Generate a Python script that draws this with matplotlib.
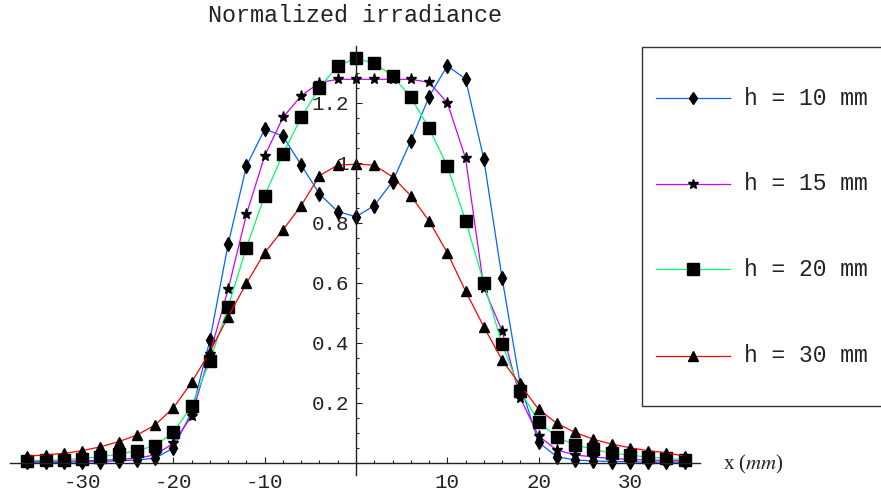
import matplotlib
matplotlib.use("Agg")
import matplotlib.pyplot as plt
from matplotlib.lines import Line2D
from matplotlib.patches import Rectangle
from matplotlib.ticker import MultipleLocator, FixedLocator, FixedFormatter

plt.rcParams['axes.unicode_minus'] = False
plt.rcParams['mathtext.fontset'] = 'stix'

# ---- data ----
x_mm = list(range(-36, 37, 2))

h10 = [0.003, 0.003, 0.003, 0.004, 0.005, 0.007, 0.010, 0.016, 0.050, 0.170, 0.410, 0.730,
       0.990, 1.113, 1.090, 0.993, 0.897, 0.838, 0.821,
       0.858, 0.938, 1.073, 1.221, 1.324, 1.280, 1.013, 0.616, 0.260, 0.069, 0.021,
       0.010, 0.007, 0.005, 0.004, 0.003, 0.003, 0.003]
h15 = [0.005, 0.005, 0.006, 0.007, 0.009, 0.012, 0.016, 0.027, 0.066, 0.157, 0.365, 0.579,
       0.829, 1.024, 1.152, 1.224, 1.268, 1.279, 1.279,
       1.279, 1.279, 1.279, 1.269, 1.201, 1.016, 0.585, 0.440, 0.216, 0.090, 0.043,
       0.027, 0.020, 0.015, 0.012, 0.010, 0.008, 0.007]
h20 = [0.008, 0.009, 0.011, 0.015, 0.021, 0.029, 0.041, 0.058, 0.102, 0.191, 0.340, 0.521,
       0.718, 0.891, 1.030, 1.152, 1.251, 1.324, 1.349,
       1.332, 1.291, 1.219, 1.116, 0.990, 0.808, 0.601, 0.396, 0.240, 0.138, 0.086,
       0.060, 0.046, 0.032, 0.027, 0.019, 0.016, 0.010]
h30 = [0.023, 0.027, 0.032, 0.041, 0.054, 0.071, 0.093, 0.127, 0.184, 0.269, 0.371, 0.488,
       0.599, 0.701, 0.777, 0.858, 0.958, 0.993, 0.996,
       0.993, 0.954, 0.891, 0.807, 0.701, 0.573, 0.454, 0.343, 0.260, 0.179, 0.132,
       0.102, 0.079, 0.063, 0.051, 0.041, 0.034, 0.023]

series = [h10, h15, h20, h30]
labels = ["h = 10 mm", "h = 15 mm", "h = 20 mm", "h = 30 mm"]
colors = ["#0066ff", "#cc00ff", "#00ff66", "#ff0000"]
markers = ["d", "*", "s", "^"]
msizes = [7, 8, 8.5, 6.5]

xticks_major = [-30, -20, -10, 10, 20, 30]
xtick_labels = ["-30", "-20", "-10", "10", "20", "30"]
yticks_major = [0.2, 0.4, 0.6, 0.8, 1.0, 1.2]
ytick_labels = ["0.2", "0.4", "0.6", "0.8", "1", "1.2"]

W, H = 881, 491
fig = plt.figure(figsize=(W / 100, H / 100), dpi=100)

# axes placement (pixels -> figure fraction)
xl, xr = -37.9, 37.7
yb, yt = -0.04, 1.39
px_per_x = 9.13
px_per_y = 300.0
x0_px = 356.0
y0_px = 463.0
left_px = x0_px + xl * px_per_x
right_px = x0_px + xr * px_per_x
top_px = y0_px - yt * px_per_y
bot_px = y0_px - yb * px_per_y
ax = fig.add_axes([left_px / W, 1 - bot_px / H, (right_px - left_px) / W, (bot_px - top_px) / H])
ax.set_xlim(xl, xr)
ax.set_ylim(yb, yt)

for ys, c, m, ms in zip(series, colors, markers, msizes):
    ax.plot(x_mm, ys, color=c, lw=0.9, marker=m, ms=ms, mfc='black', mec='black',
            clip_on=False)

ax.spines['top'].set_visible(False)
ax.spines['right'].set_visible(False)
ax.spines['left'].set_position(('data', 0))
ax.spines['bottom'].set_position(('data', 0))
for s in ('left', 'bottom'):
    ax.spines[s].set_linewidth(1.0)
    ax.spines[s].set_color('#222222')

ax.xaxis.set_major_locator(FixedLocator(xticks_major))
ax.xaxis.set_major_formatter(FixedFormatter(xtick_labels))
ax.xaxis.set_minor_locator(MultipleLocator(2))
ax.yaxis.set_major_locator(FixedLocator(yticks_major))
ax.yaxis.set_major_formatter(FixedFormatter(ytick_labels))
ax.yaxis.set_minor_locator(MultipleLocator(0.05))

ax.tick_params(which='both', direction='in', color='#222222', width=0.8)
ax.tick_params(which='major', length=4.0)
ax.tick_params(which='minor', length=2.3)
ax.tick_params(axis='x', which='major', pad=7)
ax.tick_params(axis='y', which='major', pad=5)
for lab in ax.get_xticklabels() + ax.get_yticklabels():
    lab.set_family('Liberation Mono')
    lab.set_fontsize(15)
    lab.set_color('#222222')
ax.patch.set_alpha(0)

# title and axis label
fig.text(355 / W, 1 - 15 / H, "Normalized irradiance", family='Liberation Mono',
         fontsize=16.8, ha='center', va='center', color='#222222')
fig.text(723 / W, 1 - 464 / H, r"x ($\mathit{mm}$)", family='Liberation Serif',
         fontsize=15, ha='left', va='center', color='#222222')

# legend box (extends past the right edge)
fig.add_artist(Rectangle((642 / W, 1 - 406 / H), 260 / W, (406 - 47) / H,
                         transform=fig.transFigure, fill=False, ec='#333333', lw=1.0,
                         clip_on=False))
entry_y = [98, 184, 269, 356]
legend_ms = [6.5, 7, 8.5, 6.5]
for yy, lab, c, m, ms in zip(entry_y, labels, colors, markers, legend_ms):
    fy = 1 - yy / H
    fig.add_artist(Line2D([656 / W, 730 / W], [fy, fy], transform=fig.transFigure,
                          color=c, lw=0.9))
    fig.add_artist(Line2D([693 / W], [fy], transform=fig.transFigure, marker=m,
                          ms=ms, mfc='black', mec='black', ls='none'))
    fig.text(744 / W, fy, lab, family='Liberation Mono', fontsize=16.6,
             ha='left', va='center', color='#222222')

fig.savefig("out.png", dpi=100)
